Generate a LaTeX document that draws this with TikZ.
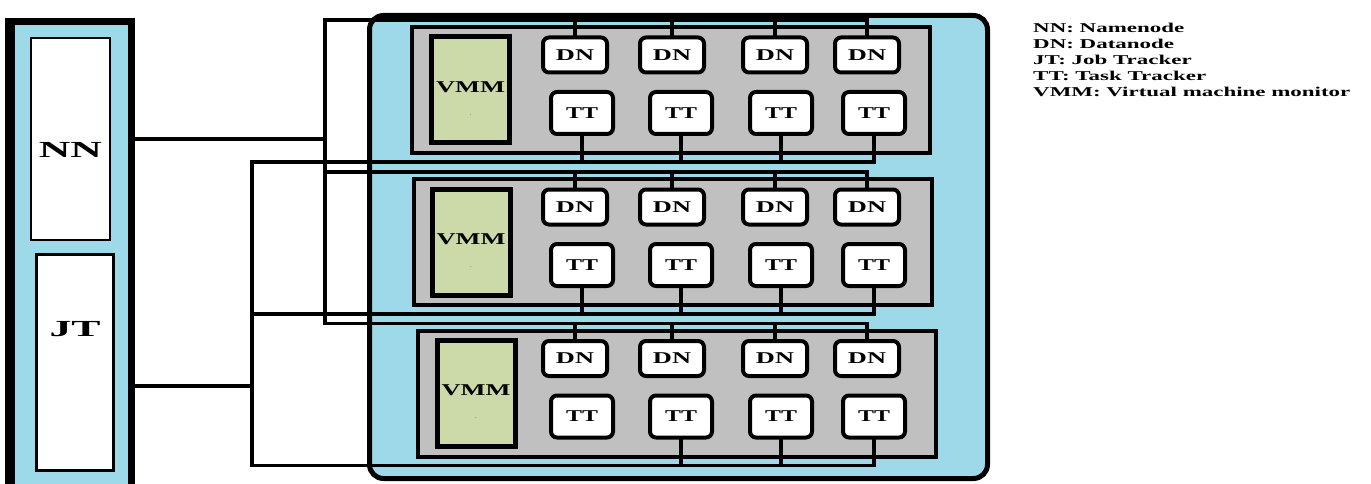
\documentclass[tikz,border=0pt]{standalone}
\usepackage{fontspec}
\setmainfont{Liberation Serif}
\usepackage{graphicx}
\usepackage{xcolor}
\definecolor{PanelBlue}{RGB}{157,217,232}
\definecolor{HostGray}{RGB}{192,192,192}
\definecolor{VmmGreen}{RGB}{204,217,168}
\usetikzlibrary{positioning, calc}
\newcommand{\wide}[2][1.7]{\scalebox{#1}[1]{#2}}
\tikzset{
  % Master column (NN + JT)
  master/.style={
    rectangle, draw=black, line width=7pt, fill=PanelBlue,
    minimum width=120pt, minimum height=468pt, inner sep=0pt
  },
  daemon/.style={rectangle, draw=black, line width=2.5pt, fill=white, inner sep=0pt},
  % Cloud of hosts
  cloud/.style={
    rectangle, rounded corners=14pt, draw=black, line width=5pt,
    fill=PanelBlue, minimum width=618pt, minimum height=463pt, inner sep=0pt
  },
  host/.style={
    rectangle, draw=black, line width=4pt, fill=HostGray,
    minimum width=518pt, minimum height=126pt, inner sep=0pt
  },
  vmm/.style={
    rectangle, draw=black, line width=5pt, fill=VmmGreen,
    minimum width=78pt, minimum height=106pt, inner sep=0pt
  },
  % DN / TT slots
  slot/.style={
    rectangle, rounded corners=6pt, draw=black, line width=4pt, fill=white,
    inner sep=0pt, font=\fontsize{16.5}{16.5}\selectfont\bfseries
  },
  dnbox/.style={slot, minimum width=64pt, minimum height=35pt},
  ttbox/.style={slot, minimum width=62pt, minimum height=42pt},
  % Labels and wires
  lbl/.style={inner sep=0pt, font=\fontsize{16.5}{16.5}\selectfont\bfseries},
  biglbl/.style={inner sep=0pt, font=\fontsize{23}{23}\selectfont\bfseries},
  wire/.style={line width=3.3pt, black, line cap=rect},
}

\begin{document}
\begin{tikzpicture}[x=1pt, y=-1pt]
  \clip (0,0) rectangle (1371,484);

  %% Master column
  \node[master] (master) at (71.5,255.5) {};
  \draw[line width=4pt] ([xshift=-1.5pt]master.north west) -- ([xshift=-1.5pt]master.south west);
  \node[daemon, minimum width=79pt, minimum height=202pt] (nn) at (70.5,139) {};
  \node[daemon, minimum width=77pt, minimum height=216pt] (jt) at (75,362.5) {};
  \node[biglbl] (nnlbl) at ($(nn.center)+(0,11)$) {\wide[1.9]{NN}};
  \node[biglbl] (jtlbl) at ($(jt.center)+(0,-33)$) {\wide[1.9]{JT}};

  %% Cloud with three hosts
  \node[cloud] (cloud) at (678.5,247) {};

  \foreach \r/\hx/\hy/\vx in {1/671/90/470.5, 2/673/242/471, 3/676.5/393.5/476}{
    \node[host] (host\r) at (\hx,\hy) {};
    \node[vmm] (vmm\r) at (\vx,\hy) {};
    \node[lbl] (vmmlbl\r) at ($(vmm\r.center)+(0,-3)$) {\wide[1.6]{VMM}};
    \node[inner sep=0pt, font=\tiny] (vmmdot\r) at ($(vmm\r.center)+(0,25)$) {.};
    \foreach \c/\dx/\tx in {1/575/582, 2/672/681, 3/775/781, 4/867/874}{
      \node[dnbox] (dn\r\c) at (\dx,\hy-35) {\wide[1.6]{DN}};
      \node[ttbox] (tt\r\c) at (\tx,\hy+23) {\wide[1.45]{TT}};
    }
    %% buses
    \coordinate (dnbus\r) at (325,\hy-70);
    \coordinate (ttbus\r) at (252,\hy+72);
    \draw[wire] (dnbus\r) -- (dnbus\r -| dn\r4.north);
    \draw[wire] (ttbus\r) -- (ttbus\r -| tt\r4.south);
    \foreach \c in {1,2,3,4}{
      \draw[wire] (dn\r\c.north) -- (dn\r\c.north |- dnbus\r);
      \ifnum\r\c=31 \else
        \draw[wire] (tt\r\c.south) -- (tt\r\c.south |- ttbus\r);
      \fi
    }
  }

  %% Trunks to NN and JT
  \draw[wire] (dnbus1) -- (dnbus3);
  \draw[wire] (ttbus1) -- (ttbus3);
  \draw[wire] (nn.east -| master.east) -- (nn.east -| dnbus1);
  \draw[wire] (master.east |- 0,386) -- (ttbus1 |- 0,386);

  %% Legend
  \node[anchor=base west, inner sep=0pt, font=\fontsize{13.5}{16}\selectfont\bfseries]
    (legend) at (1033,33) {\wide[1.7]{\begin{tabular}[t]{@{}l@{}}
      NN: Namenode\\ DN: Datanode\\ JT: Job Tracker\\ TT: Task Tracker\\
      VMM: Virtual machine monitor\end{tabular}}};

\end{tikzpicture}
\end{document}
